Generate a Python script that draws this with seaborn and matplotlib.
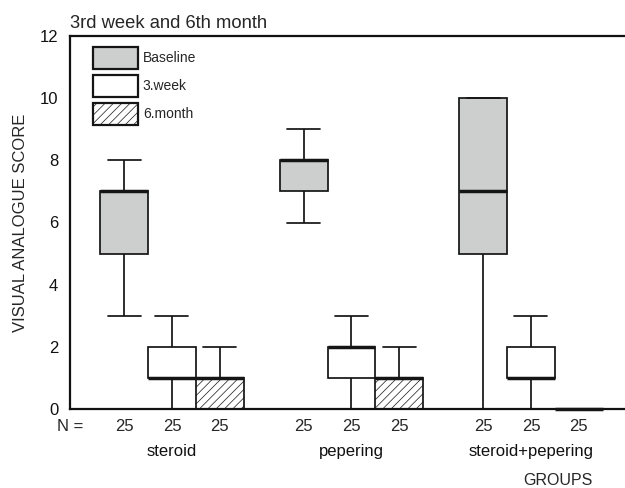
import matplotlib
matplotlib.use("Agg")
import matplotlib.pyplot as plt
import numpy as np
import pandas as pd
import seaborn as sns
from matplotlib.patches import Patch

# ---- data ----
groups = ["steroid", "pepering", "steroid+pepering"]
periods = ["Baseline", "3.week", "6.month"]
# five-number summaries per box: min, Q1, median, Q3, max
steroid_baseline = [3, 5, 7, 7, 8]
steroid_week3 = [0, 1, 1, 2, 3]
steroid_month6 = [0, 0, 1, 1, 2]
pepering_baseline = [6, 7, 8, 8, 9]
pepering_week3 = [0, 1, 2, 2, 3]
pepering_month6 = [0, 0, 1, 1, 2]
combined_baseline = [0, 5, 7, 10, 10]
combined_week3 = [0, 1, 1, 2, 3]
combined_month6 = [0, 0, 0, 0, 0]
n_counts = [25, 25, 25, 25, 25, 25, 25, 25, 25]
y_ticks = [0, 2, 4, 6, 8, 10, 12]

box_values = {
    ("steroid", "Baseline"): steroid_baseline,
    ("steroid", "3.week"): steroid_week3,
    ("steroid", "6.month"): steroid_month6,
    ("pepering", "Baseline"): pepering_baseline,
    ("pepering", "3.week"): pepering_week3,
    ("pepering", "6.month"): pepering_month6,
    ("steroid+pepering", "Baseline"): combined_baseline,
    ("steroid+pepering", "3.week"): combined_week3,
    ("steroid+pepering", "6.month"): combined_month6,
}
rows = []
for (g, p), vals in box_values.items():
    for v in vals:
        rows.append({"group": g, "period": p, "score": v})
df = pd.DataFrame(rows)

# ---- styling ----
sns.set_style("white")
plt.rcParams["font.family"] = ["Liberation Sans", "DejaVu Sans"]
plt.rcParams["hatch.linewidth"] = 0.5

gray = "#cdcfce"
edge = "#151515"
palette = {"Baseline": gray, "3.week": "white", "6.month": "white"}

fig = plt.figure(figsize=(6.25, 4.88), dpi=100)
ax = fig.add_axes([70 / 625, 79 / 488, 555 / 625, 373 / 488])

box_w = 0.8
median_lw = 2.5
sns.boxplot(
    data=df, x="group", y="score", hue="period",
    order=groups, hue_order=periods, palette=palette,
    width=box_w, gap=0, whis=1.5, fliersize=0,
    linecolor=edge, linewidth=1.25, saturation=1,
    medianprops=dict(linewidth=median_lw, color=edge),
    capwidths=0.184,
    legend=False, ax=ax,
)

step = box_w / len(periods)
offsets = [(i - (len(periods) - 1) / 2) * step for i in range(len(periods))]

# hatch the 6.month boxes
for patch in ax.patches:
    ext = patch.get_path().get_extents()
    cx = (ext.x0 + ext.x1) / 2
    if abs((cx - round(cx)) - offsets[2]) < 0.05:
        patch.set_hatch("////")

# medians above the axis line
for line in ax.lines:
    if line.get_linewidth() >= median_lw - 0.01:
        line.set_zorder(3)
        line.set_clip_on(False)

ax.set_ylim(0, 12)
ax.set_xlim(-0.568, 2.524)
ax.set_yticks(y_ticks)
ax.tick_params(axis="y", direction="out", length=4.5, width=1.3, pad=4, labelsize=12, colors="#111111")
ax.set_xticks(range(len(groups)))
ax.set_xticklabels(groups)
ax.tick_params(axis="x", direction="out", length=2.5, width=1.3, pad=23, labelsize=12, colors="#111111")

for side in ["left", "bottom", "top"]:
    ax.spines[side].set_linewidth(1.6)
    ax.spines[side].set_color("#111111")
ax.spines["right"].set_visible(False)

# N = row
ax.text(0.024, -0.048, "N =", transform=ax.transAxes, ha="right", va="center", fontsize=12)
k = 0
for gi, g in enumerate(groups):
    for pi, p in enumerate(periods):
        ax.text(gi + offsets[pi], -0.048, str(n_counts[k]),
                transform=ax.get_xaxis_transform(), ha="center", va="center", fontsize=12)
        k += 1

ax.set_xlabel("GROUPS", fontsize=11.5)
ax.xaxis.set_label_coords(0.879, -0.172)
ax.set_ylabel("VISUAL ANALOGUE SCORE", fontsize=12)
ax.yaxis.set_label_coords(-0.075, 0.5)
ax.set_title("3rd week and 6th month", loc="left", fontsize=13.2, pad=6)

handles = [
    Patch(facecolor=gray, edgecolor=edge, linewidth=1.6),
    Patch(facecolor="white", edgecolor=edge, linewidth=1.6),
    Patch(facecolor="white", edgecolor=edge, linewidth=1.6, hatch="////"),
]
ax.legend(handles, periods, loc="upper left", bbox_to_anchor=(0.0414, 0.9705),
          frameon=False, borderpad=0, borderaxespad=0, handlelength=3.24,
          handleheight=2.06, labelspacing=0.43, handletextpad=0.35, fontsize=10)

fig.savefig("out.png", dpi=100)
